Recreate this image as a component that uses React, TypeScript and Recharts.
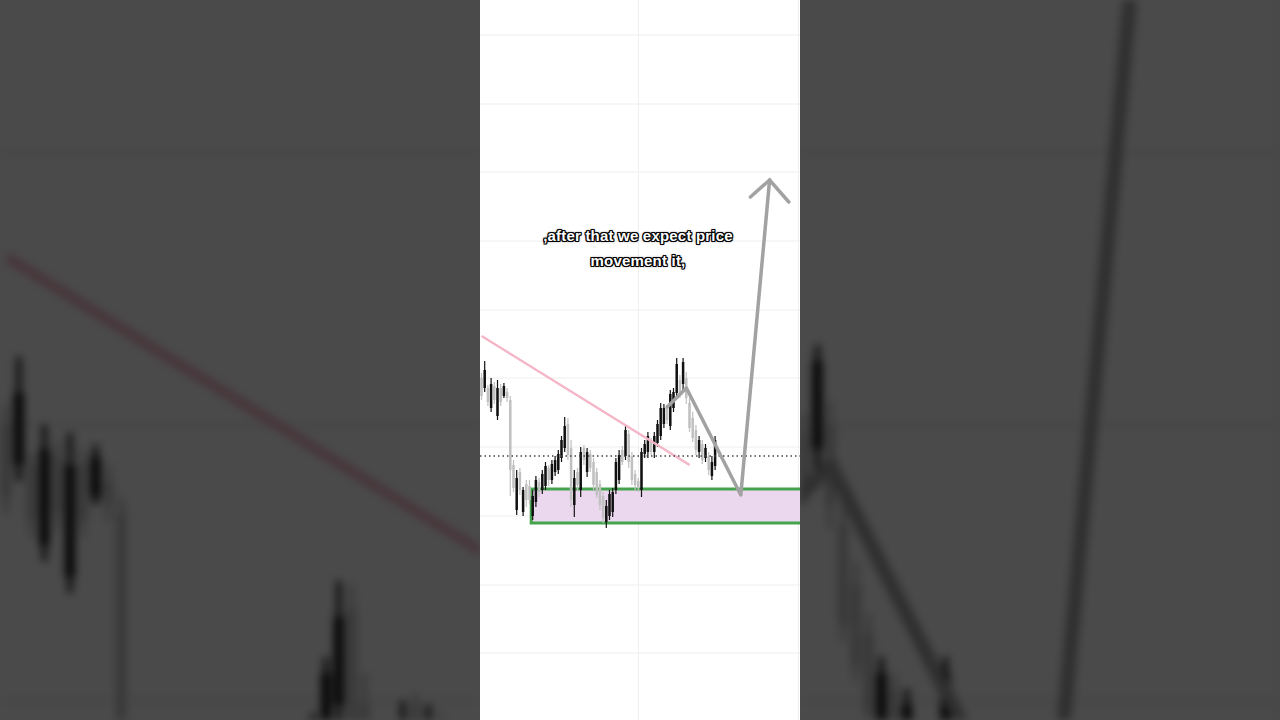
import React from "react";
import {
  ComposedChart,
  Bar,
  Line,
  XAxis,
  YAxis,
  CartesianGrid,
  ReferenceLine,
  ReferenceArea,
} from "recharts";

// price (one slot per candle, empty slots to the right)
const opens = [
  342, 332, 332, 312, 334, 304, 332, 324, 328, 320, 255, 210, 248, 208, 236, 234, 204, 218, 238, 230,
  234, 252, 240, 248, 250, 262, 272, 296, 272, 215, 248, 230, 272, 248, 266, 258, 248, 236, 224, 198,
  204, 208, 230, 240, 270, 264, 286, 264, 246, 239, 230, 266, 268, 279, 268, 277, 284, 296, 312, 294,
  312, 327, 340, 336, 342, 317, 302, 290, 268, 276, 262, 264, 244, 254,
];
const highs = [
  347, 359, 335, 342, 338, 340, 336, 337, 332, 324, 260, 250, 252, 233, 240, 240, 230, 244, 242, 250,
  258, 255, 260, 264, 270, 284, 303, 302, 280, 250, 252, 273, 275, 272, 270, 262, 252, 240, 228, 220,
  230, 232, 262, 270, 274, 294, 290, 268, 250, 242, 272, 280, 288, 282, 288, 300, 317, 316, 315, 330,
  332, 362, 345, 362, 348, 322, 308, 295, 284, 280, 276, 268, 264, 284,
];
const lows = [
  320, 328, 314, 308, 316, 300, 314, 322, 318, 224, 228, 205, 225, 204, 213, 216, 200, 213, 223, 226,
  230, 234, 236, 244, 246, 258, 268, 260, 213, 203, 230, 223, 255, 243, 248, 230, 222, 210, 197, 192,
  200, 203, 226, 236, 255, 260, 252, 235, 230, 228, 223, 262, 262, 265, 262, 273, 280, 292, 296, 290,
  308, 322, 322, 330, 316, 288, 278, 265, 262, 256, 258, 245, 240, 250,
];
const closes = [
  324, 350, 318, 336, 320, 332, 318, 334, 322, 250, 232, 242, 230, 230, 220, 220, 224, 240, 228, 246,
  254, 240, 256, 260, 266, 280, 294, 265, 220, 242, 235, 268, 260, 268, 252, 235, 225, 215, 202, 214,
  226, 228, 258, 265, 258, 290, 258, 240, 235, 232, 268, 276, 284, 268, 284, 296, 312, 312, 300, 326,
  328, 356, 326, 358, 322, 292, 282, 270, 280, 260, 272, 250, 258, 280,
];

const slotCount = 100;
const gridPrices = [685, 616, 548, 479, 410, 342, 273, 204, 135, 67];
const gridSlots = [49, 99];

const triggerLevel = 264;
const zoneLow = 197;
const zoneHigh = 231;
const zoneStartSlot = 16;

const trendSlots = [0, 65];
const trendPrices = [384, 255];

const pathSlots = [58, 64, 81, 90];
const pathPrices = [313, 332, 225, 540];
const headSlots = [84, 90, 96];
const headPrices = [523, 540, 518];

const captionLines = [",after that we expect price", "movement it,"];

const rows = Array.from({ length: slotCount }, (_, i) => {
  const p = pathSlots.indexOf(i);
  const h = headSlots.indexOf(i);
  return {
    slot: i,
    open: opens[i] ?? null,
    high: highs[i] ?? null,
    low: lows[i] ?? null,
    close: closes[i] ?? null,
    path: p >= 0 ? pathPrices[p] : null,
    head: h >= 0 ? headPrices[h] : null,
  };
});

const Candle = (props: any) => {
  const { x, y, width, height, payload } = props;
  if (payload == null || payload.high == null) return null;
  const { open, close, high, low } = payload;
  const top = Math.min(y, y + height);
  const h = Math.abs(height);
  const k = h / (high - low || 1);
  const cx = x + width / 2;
  const yOpen = top + (high - open) * k;
  const yClose = top + (high - close) * k;
  const up = close >= open;
  const color = up ? "#111111" : "#c0c0c0";
  return (
    <g>
      <line x1={cx} x2={cx} y1={top} y2={top + h} stroke={color} strokeWidth={1.2} />
      <rect
        x={cx - 1.25}
        width={2.5}
        y={Math.min(yOpen, yClose)}
        height={Math.max(1, Math.abs(yOpen - yClose))}
        fill={color}
      />
    </g>
  );
};

const ZoneShape = (props: any) => {
  const { x, y, width, height } = props;
  return (
    <g>
      <rect x={x} y={y} width={width + 6} height={height} fill="#ecd8ee" />
      <path
        d={`M${x + width + 6},${y} H${x} V${y + height} H${x + width + 6}`}
        fill="none"
        stroke="#45a34e"
        strokeWidth={3}
      />
    </g>
  );
};

function Frame({ caption = true }: { caption?: boolean }) {
  return (
    <div style={{ position: "relative", width: 320, height: 720, background: "#ffffff" }}>
      <ComposedChart
        width={320}
        height={720}
        data={rows}
        margin={{ top: 0, right: 0, bottom: 0, left: 0 }}
        barCategoryGap={0}
      >
        <CartesianGrid
          stroke="#eeeeee"
          horizontalValues={gridPrices}
          verticalValues={gridSlots}
        />
        <XAxis dataKey="slot" type="category" hide />
        <YAxis type="number" domain={[0, 720]} hide allowDataOverflow />
        <ReferenceArea
          x1={zoneStartSlot}
          x2={slotCount - 1}
          y1={zoneLow}
          y2={zoneHigh}
          shape={ZoneShape}
          ifOverflow="visible"
        />
        <ReferenceLine
          segment={[
            { x: trendSlots[0], y: trendPrices[0] },
            { x: trendSlots[1], y: trendPrices[1] },
          ]}
          stroke="#f5b6c7"
          strokeWidth={2.5}
          ifOverflow="visible"
        />
        <ReferenceLine
          y={triggerLevel}
          stroke="#444444"
          strokeWidth={1.5}
          strokeDasharray="1.5 3"
        />
        <Bar
          dataKey={(d: any) => (d.high == null ? null : [d.low, d.high])}
          shape={Candle}
          isAnimationActive={false}
        />
        <Line
          dataKey="path"
          connectNulls
          stroke="#a2a2a2"
          strokeWidth={3.5}
          strokeLinejoin="round"
          strokeLinecap="round"
          dot={false}
          isAnimationActive={false}
        />
        <Line
          dataKey="head"
          connectNulls
          stroke="#a2a2a2"
          strokeWidth={3.5}
          strokeLinejoin="miter"
          strokeLinecap="round"
          dot={false}
          isAnimationActive={false}
        />
      </ComposedChart>
      {caption && (
        <div
          style={{
            position: "absolute",
            left: 0,
            width: 316,
            top: 223,
            textAlign: "center",
            fontFamily: "'Liberation Sans', Arial, sans-serif",
            fontWeight: 700,
            fontSize: 15,
            letterSpacing: 0.2,
            lineHeight: "25px",
            color: "#ffffff",
            textShadow:
              "1px 1px 0 #000, -1px -1px 0 #000, 1px -1px 0 #000, -1px 1px 0 #000, 0 1px 0 #000, 0 -1px 0 #000, 1px 0 0 #000, -1px 0 0 #000, 0 0 3px #000",
          }}
        >
          {captionLines.map((t) => (
            <div key={t}>{t}</div>
          ))}
        </div>
      )}
    </div>
  );
}

export default function App() {
  const side = {
    position: "absolute" as const,
    top: 0,
    width: 480,
    height: 720,
    overflow: "hidden",
    filter: "blur(4px) brightness(0.29)",
  };
  return (
    <div
      style={{
        position: "fixed",
        left: 0,
        top: 0,
        width: 1280,
        height: 720,
        overflow: "hidden",
        background: "#4a4a4a",
      }}
    >
      {/* blurred, darkened 4x copies on both sides */}
      <div style={{ ...side, left: 0 }}>
        <div style={{ transformOrigin: "0 0", transform: "translate(0px, -1087px) scale(4)" }}>
          <Frame caption={false} />
        </div>
      </div>
      <div style={{ ...side, left: 800 }}>
        <div style={{ transformOrigin: "0 0", transform: "translate(-795px, -1087px) scale(4)" }}>
          <Frame caption={false} />
        </div>
      </div>
      <div style={{ position: "absolute", left: 480, top: 0 }}>
        <Frame />
      </div>
    </div>
  );
}
